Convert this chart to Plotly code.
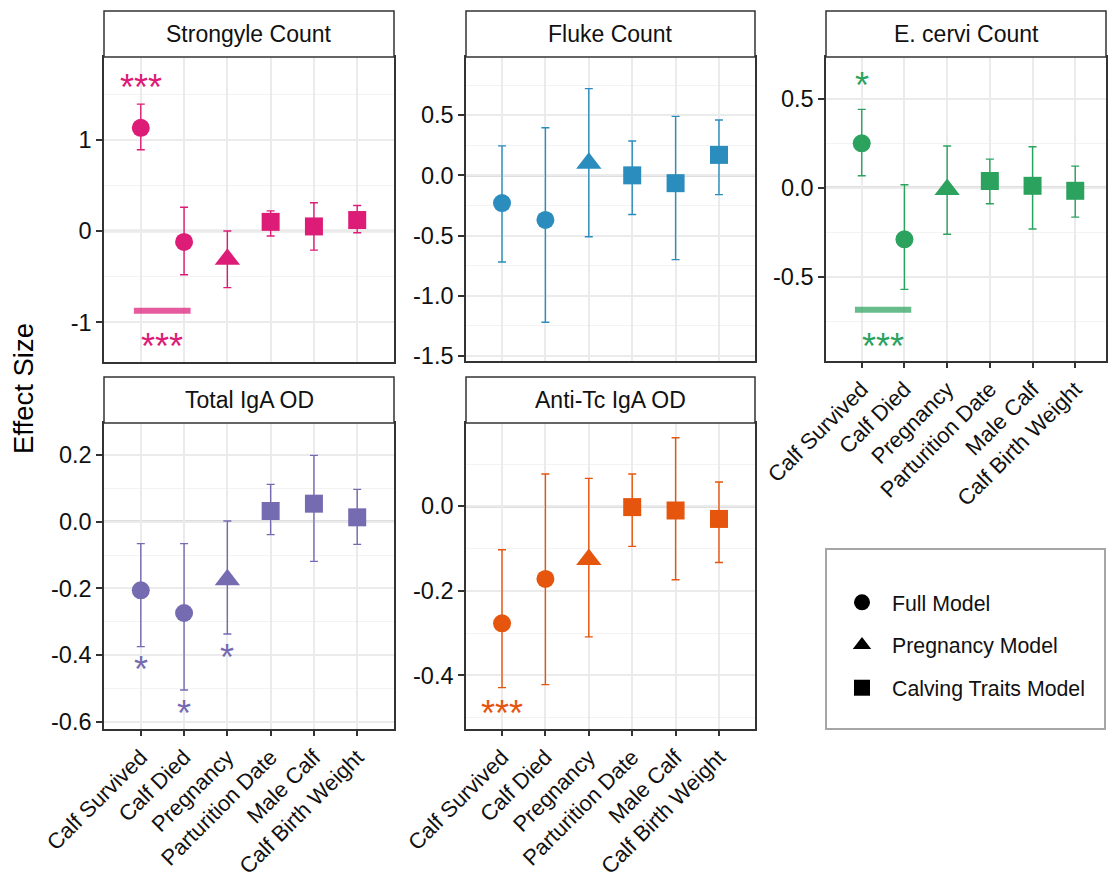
import plotly.graph_objects as go

# ---------------- data ----------------
categories = ["Calf Survived", "Calf Died", "Pregnancy",
              "Parturition Date", "Male Calf", "Calf Birth Weight"]
cat_model = ["Full Model", "Full Model", "Pregnancy Model",
             "Calving Traits Model", "Calving Traits Model", "Calving Traits Model"]
model_names = ["Full Model", "Pregnancy Model", "Calving Traits Model"]

panels = ["Strongyle Count", "Fluke Count", "E. cervi Count",
          "Total IgA OD", "Anti-Tc IgA OD"]

strongyle_est = [1.13, -0.12, -0.31, 0.10, 0.05, 0.12]
strongyle_lo = [0.89, -0.48, -0.62, -0.055, -0.21, -0.02]
strongyle_hi = [1.39, 0.26, 0.00, 0.22, 0.31, 0.28]

fluke_est = [-0.23, -0.37, 0.10, 0.00, -0.065, 0.17]
fluke_lo = [-0.72, -1.22, -0.51, -0.325, -0.70, -0.16]
fluke_hi = [0.245, 0.395, 0.72, 0.285, 0.49, 0.46]

ecervi_est = [0.25, -0.29, -0.01, 0.038, 0.011, -0.017]
ecervi_lo = [0.068, -0.572, -0.262, -0.09, -0.232, -0.165]
ecervi_hi = [0.441, 0.017, 0.235, 0.161, 0.231, 0.122]

iga_est = [-0.206, -0.274, -0.174, 0.032, 0.054, 0.013]
iga_lo = [-0.375, -0.505, -0.337, -0.039, -0.119, -0.068]
iga_hi = [-0.066, -0.066, 0.002, 0.112, 0.199, 0.097]

antitc_est = [-0.277, -0.172, -0.126, -0.002, -0.010, -0.030]
antitc_lo = [-0.429, -0.422, -0.309, -0.095, -0.174, -0.133]
antitc_hi = [-0.103, 0.0765, 0.066, 0.0765, 0.162, 0.0575]

est_list = [strongyle_est, fluke_est, ecervi_est, iga_est, antitc_est]
lo_list = [strongyle_lo, fluke_lo, ecervi_lo, iga_lo, antitc_lo]
hi_list = [strongyle_hi, fluke_hi, ecervi_hi, iga_hi, antitc_hi]

# y tick values / labels per panel
ytick_vals = [[-1, 0, 1],
              [-1.5, -1.0, -0.5, 0.0, 0.5],
              [-0.5, 0.0, 0.5],
              [-0.6, -0.4, -0.2, 0.0, 0.2],
              [-0.4, -0.2, 0.0]]
ytick_text = [["-1", "0", "1"],
              ["-1.5", "-1.0", "-0.5", "0.0", "0.5"],
              ["-0.5", "0.0", "0.5"],
              ["-0.6", "-0.4", "-0.2", "0.0", "0.2"],
              ["-0.4", "-0.2", "0.0"]]
yminor_vals = [[-0.5, 0.5, 1.5],
               [-1.25, -0.75, -0.25, 0.25, 0.75],
               [-0.75, -0.25, 0.25],
               [-0.5, -0.3, -0.1, 0.1],
               [-0.5, -0.3, -0.1, 0.1]]

# significance stars: panel index, x position (category index, 1-based), y, label
star_panel = [0, 0, 2, 2, 3, 3, 3, 4]
star_x = [1, 1.5, 1, 1.5, 1, 2, 3, 1]
star_y = [1.62, -1.22, 0.596, -0.87, -0.43, -0.562, -0.395, -0.482]
star_text = ["***", "***", "*", "***", "*", "*", "*", "***"]

# contrast bars (Calf Survived vs Calf Died)
bar_panel = [0, 2]
bar_x0 = [0.84, 0.84]
bar_x1 = [2.15, 2.16]
bar_y = [-0.873, -0.687]

# ---------------- styling ----------------
colors = ["#DD1C77", "#2B8CBE", "#2CA25F", "#756BB1", "#E6550D"]
bar_colors = ["rgba(221,28,119,0.72)", "rgba(43,140,190,0.72)",
              "rgba(44,162,95,0.72)", "rgba(117,107,177,0.72)",
              "rgba(230,85,13,0.72)"]
symbols = {"Full Model": "circle", "Pregnancy Model": "triangle-up",
           "Calving Traits Model": "square"}
sizes = {"Full Model": 18, "Pregnancy Model": 22, "Calving Traits Model": 18}

W, H = 1108, 882
# pixel boxes of plotting areas: (left, right, top, bottom)
boxes = [(104, 394, 57, 362), (466, 755, 57, 361), (826, 1106, 57, 361),
         (104, 394, 423, 729), (466, 755, 423, 729)]
strip_tops = [11, 11, 11, 377, 377]
yranges = [[-1.435, 1.906], [-1.542, 0.983], [-0.975, 0.736],
           [-0.622, 0.296], [-0.527, 0.197]]
xranges = [[0.15, 6.85], [0.17, 6.83], [0.163, 6.72], [0.15, 6.85], [0.17, 6.83]]
show_xlabels = [False, False, True, True, True]

FONT = "Liberation Sans, Arial, Helvetica, sans-serif"
TXT = "#111111"
YTICK_SIZE = 23.5
XTICK_SIZE = 22
STRIP_SIZE = 23

fig = go.Figure()
layout = dict(
    width=W, height=H, margin=dict(l=0, r=0, t=0, b=0, autoexpand=False),
    paper_bgcolor="white", plot_bgcolor="white",
    font=dict(family=FONT, size=22, color=TXT),
    showlegend=True,
)
shapes = []
annotations = []

xpos = list(range(1, len(categories) + 1))

for p in range(len(panels)):
    ax = "" if p == 0 else str(p + 1)
    xa, ya = "x" + ax, "y" + ax
    l, r, t, b = boxes[p]
    layout["xaxis" + ax] = dict(
        domain=[l / W, r / W], anchor=ya, range=xranges[p], automargin=False,
        tickmode="array", tickvals=xpos, ticktext=categories,
        showticklabels=show_xlabels[p], tickangle=-45,
        ticks="outside" if show_xlabels[p] else "", ticklen=5,
        tickwidth=1.5, tickcolor="#333333",
        tickfont=dict(size=XTICK_SIZE, color=TXT, family=FONT),
        showgrid=True, gridcolor="#EBEBEB", gridwidth=2,
        showline=True, linecolor="#333333", linewidth=1.5, mirror=True,
        zeroline=False, fixedrange=True,
    )
    layout["yaxis" + ax] = dict(
        domain=[1 - b / H, 1 - t / H], anchor=xa, range=yranges[p],
        automargin=False,
        tickmode="array", tickvals=ytick_vals[p], ticktext=ytick_text[p],
        ticks="outside", ticklen=6, tickwidth=1.5, tickcolor="#333333",
        tickfont=dict(size=YTICK_SIZE, color=TXT, family=FONT),
        showgrid=True, gridcolor="#EBEBEB", gridwidth=2,
        minor=dict(tickmode="array", tickvals=yminor_vals[p], showgrid=True,
                   gridcolor="#F3F3F3", gridwidth=1.2, ticks=""),
        showline=True, linecolor="#333333", linewidth=1.5, mirror=True,
        zeroline=False, fixedrange=True,
    )
    # zero reference line
    shapes.append(dict(type="line", xref=xa + " domain", yref=ya,
                       x0=0, x1=1, y0=0, y1=0, layer="below",
                       line=dict(color="#BEBEBE", width=2.4)))
    # strip
    shapes.append(dict(type="rect", xref="paper", yref="paper",
                       x0=l / W, x1=r / W, y0=1 - t / H, y1=1 - strip_tops[p] / H,
                       fillcolor="white", line=dict(color="#333333", width=1.5)))
    annotations.append(dict(text=panels[p], xref="paper", yref="paper",
                            x=(l + r) / 2 / W, y=1 - (t + strip_tops[p]) / 2 / H,
                            showarrow=False, xanchor="center", yanchor="middle",
                            font=dict(size=STRIP_SIZE, color=TXT, family=FONT)))

    est, lo, hi = est_list[p], lo_list[p], hi_list[p]
    for m in model_names:
        idx = [i for i in range(len(categories)) if cat_model[i] == m]
        fig.add_trace(go.Scatter(
            x=[xpos[i] for i in idx], y=[est[i] for i in idx],
            xaxis=xa, yaxis=ya, mode="markers", showlegend=False,
            marker=dict(symbol=symbols[m], size=sizes[m], color=colors[p],
                        line=dict(width=0)),
            error_y=dict(type="data", symmetric=False,
                         array=[hi[i] - est[i] for i in idx],
                         arrayminus=[est[i] - lo[i] for i in idx],
                         color=colors[p], thickness=1.4, width=4),
            hoverinfo="skip",
        ))

# contrast bars
for k in range(len(bar_panel)):
    p = bar_panel[k]
    ax = "" if p == 0 else str(p + 1)
    fig.add_trace(go.Scatter(
        x=[bar_x0[k], bar_x1[k]], y=[bar_y[k], bar_y[k]],
        xaxis="x" + ax, yaxis="y" + ax, mode="lines", showlegend=False,
        line=dict(color=bar_colors[p], width=6), hoverinfo="skip"))

# significance stars
for k in range(len(star_panel)):
    p = star_panel[k]
    ax = "" if p == 0 else str(p + 1)
    annotations.append(dict(text=star_text[k], xref="x" + ax, yref="y" + ax,
                            x=star_x[k], y=star_y[k], showarrow=False,
                            xanchor="center", yanchor="middle", yshift=-4,
                            font=dict(size=36, color=colors[p], family=FONT)))

# legend box and legend entries
shapes.append(dict(type="rect", xref="paper", yref="paper",
                   x0=826 / W, x1=1105 / W, y0=1 - 729 / H, y1=1 - 549 / H,
                   fillcolor="white", line=dict(color="#A6A6A6", width=2),
                   layer="below"))
for g, m in enumerate(model_names):
    fig.add_trace(go.Scatter(
        x=[None], y=[None], mode="markers", name=m, legendgroup="g%d" % g,
        marker=dict(symbol=symbols[m], size=16, color="black"),
        showlegend=True))

layout["legend"] = dict(
    x=832 / W, y=1 - 582 / H, xanchor="left", yanchor="top",
    bgcolor="rgba(0,0,0,0)", borderwidth=0, itemwidth=50,
    traceorder="grouped", tracegroupgap=12,
    font=dict(size=21.3, color=TXT, family=FONT))

annotations.append(dict(text="Effect Size", xref="paper", yref="paper",
                        x=23 / W, y=1 - 389 / H, textangle=-90, showarrow=False,
                        xanchor="center", yanchor="middle",
                        font=dict(size=27.5, color="black", family=FONT)))

layout["shapes"] = shapes
layout["annotations"] = annotations
fig.update_layout(**layout)

fig.write_html("out.html", include_plotlyjs=True,
               config={"displayModeBar": False},
               post_script="document.body.style.margin='0';")
